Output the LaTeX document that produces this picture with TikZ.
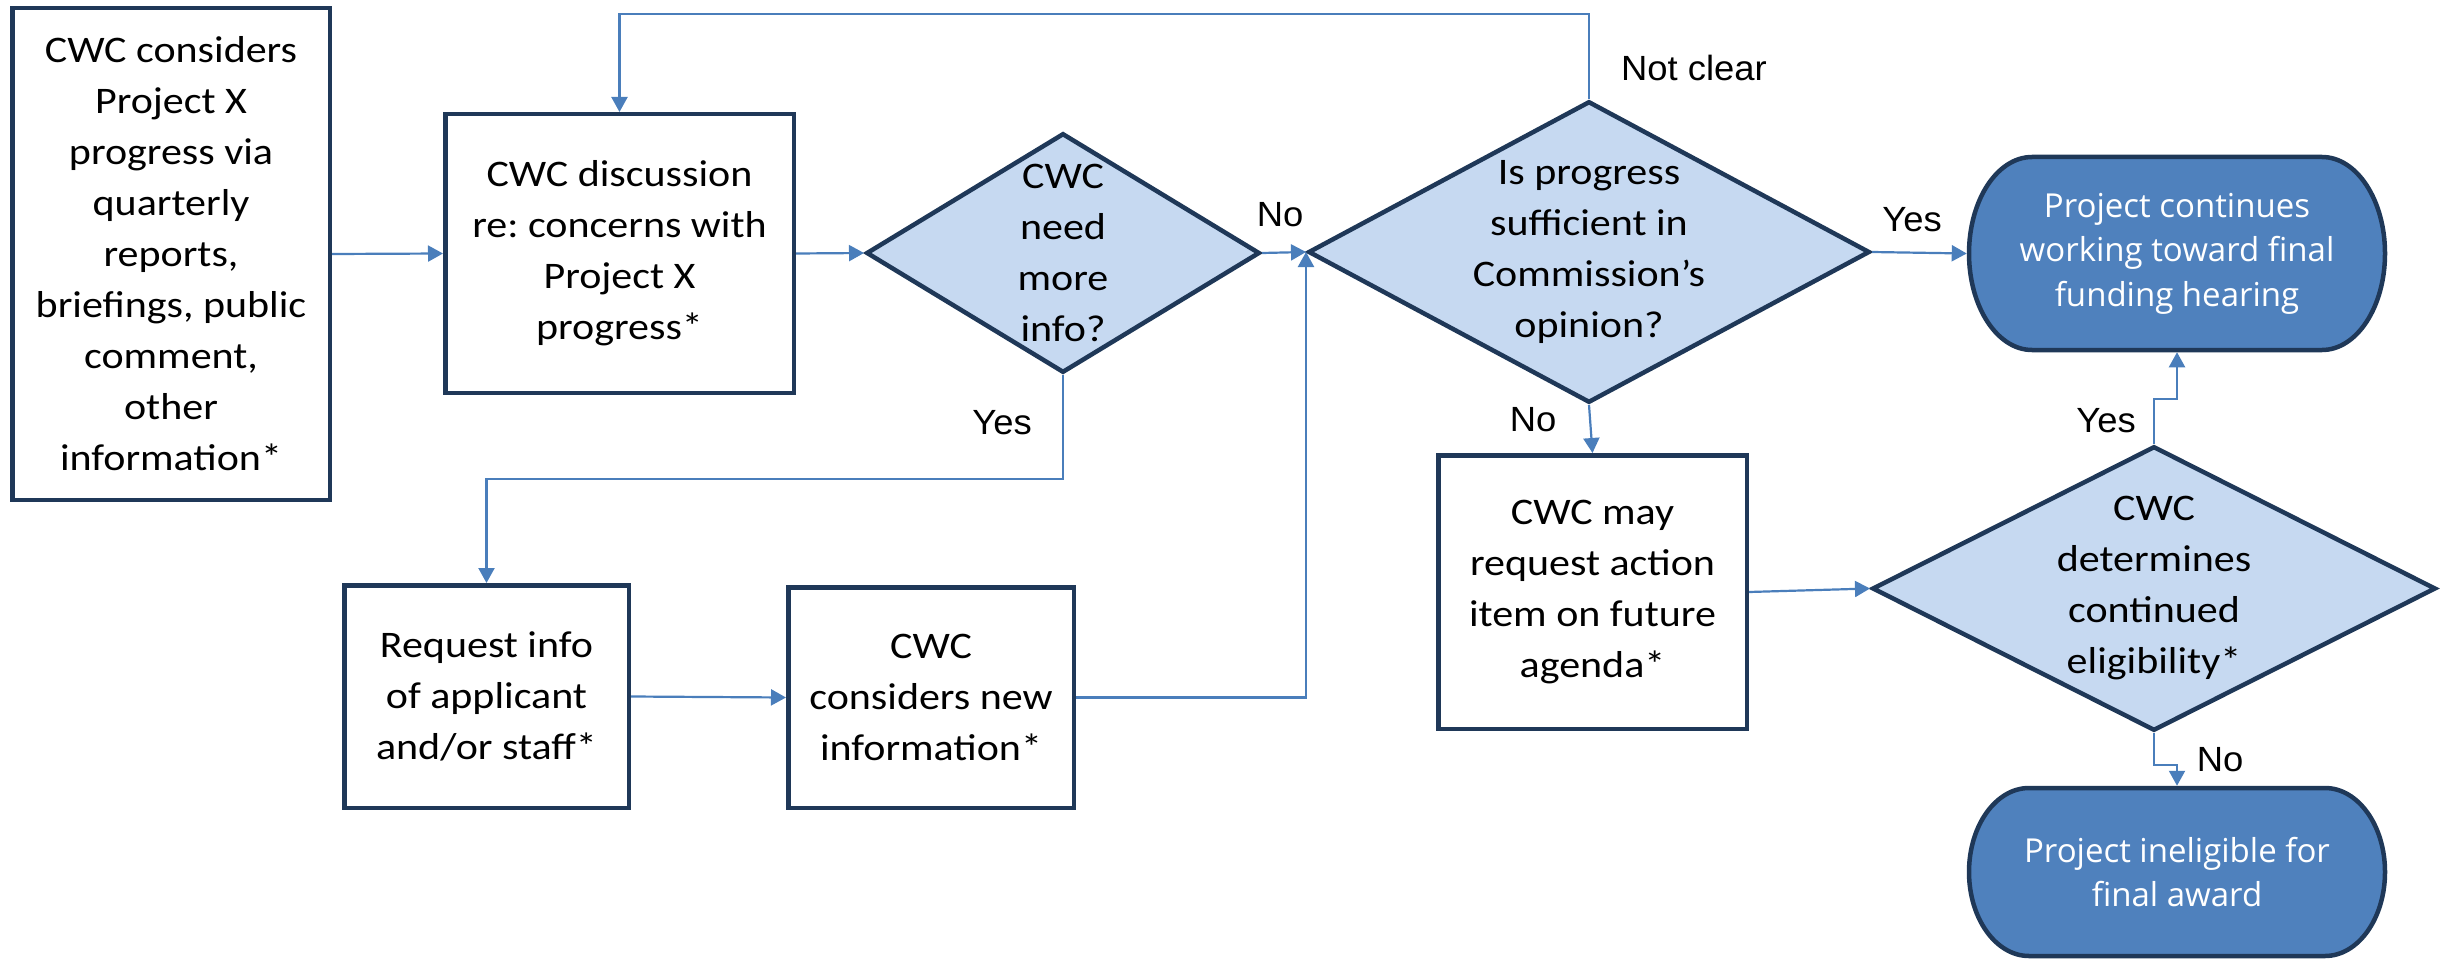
\documentclass[tikz,border=0pt]{standalone}
\usepackage{fontspec}
\usetikzlibrary{shapes.geometric,arrows.meta}
\newfontfamily\boxfont{Carlito}[FakeStretch=1.12]
\newfontfamily\lblfont{Liberation Sans}[FakeStretch=1.04]
\newfontfamily\termfont{Open Sans}
\frenchspacing
\definecolor{navy}{HTML}{1F3858}
\definecolor{lightfill}{HTML}{C6D9F1}
\definecolor{termfill}{HTML}{4F81BD}
\definecolor{conn}{HTML}{4A7EBB}
\tikzset{
  procbox/.style={draw=navy, line width=4.5pt, fill=white, align=center, inner sep=0pt,
    font=\boxfont\fontsize{37.5}{51}\selectfont},
  decide/.style={draw=navy, line width=4.5pt, fill=lightfill, diamond, inner sep=0pt,
    label={[align=center, font=\boxfont\fontsize{37.5}{51}\selectfont]center:#1}},
  termshape/.style={draw=navy, line width=4.5pt, fill=termfill},
  term/.style={align=center, inner sep=0pt, outer sep=2.25pt,
    text=white, font=\termfont\fontsize{33}{44.5}\selectfont},
  conn/.style={draw=conn, line width=2.2pt, -{Triangle[length=15pt,width=16pt]}},
  lbl/.style={inner sep=0pt, font=\lblfont\fontsize{35}{42}\selectfont}
}
\begin{document}
\begin{tikzpicture}[x=1pt,y=-1pt]
\useasboundingbox (0,0) rectangle (2447,963);
% process boxes
\node[procbox, minimum width=317.5pt, minimum height=491.5pt] (A) at (171,254)
  {CWC considers\\Project X\\progress via\\quarterly\\reports,\\briefings, public\\comment,\\other\\information*};
\node[procbox, minimum width=348.5pt, minimum height=278.5pt] (B) at (619.5,253.5)
  {CWC discussion\\re: concerns with\\Project X\\progress*};
\node[procbox, minimum width=284.5pt, minimum height=222.5pt] (G) at (486.5,696.5)
  {Request info\\of applicant\\and/or staff*};
\node[procbox, minimum width=285.5pt, minimum height=220.5pt] (H) at (931,697.5)
  {CWC\\considers new\\information*};
\node[procbox, minimum width=308.5pt, minimum height=273.5pt] (E) at (1592.5,592)
  {CWC may\\request action\\item on future\\agenda*};
% decisions
\node[decide={CWC\\need\\more\\info?}, minimum width=393.5pt, minimum height=239.5pt] (C) at (1063,253) {};
\node[decide={Is progress\\sufficient in\\Commission’s\\opinion?}, minimum width=561.5pt, minimum height=301.5pt] (D) at (1589,252) {};
\node[decide={CWC\\determines\\continued\\eligibility*}, minimum width=563.5pt, minimum height=284.5pt] (F) at (2154,588.5) {};
% terminal outlines (elliptical ends)
\draw[termshape] (2032,157) -- (2322,157)
  arc[start angle=90, end angle=-90, x radius=63pt, y radius=96.5pt]
  -- (2032,350)
  arc[start angle=270, end angle=90, x radius=63pt, y radius=96.5pt] -- cycle;
\draw[termshape] (2029,788) -- (2325,788)
  arc[start angle=90, end angle=-90, x radius=60pt, y radius=84pt]
  -- (2029,956)
  arc[start angle=270, end angle=90, x radius=60pt, y radius=84pt] -- cycle;
% terminals
\node[term, minimum width=416pt, minimum height=193pt] (T1) at (2177,253.5)
  {Project continues\\working toward final\\funding hearing};
\node[term, minimum width=416pt, minimum height=168pt] (T2) at (2177,872)
  {Project ineligible for\\final award};
% helper coordinates
\coordinate (c1) at (1063,479);
\coordinate (t1) at (1589,14);
\coordinate (f1) at (2177,399);
\coordinate (f2) at (2177,765);
% connectors
\draw[conn] (A.east) -- (B.west);
\draw[conn] (B.east) -- (C.west);
\draw[conn] (C.east) -- (D.west);
\draw[conn] (C.south) -- (c1) -| (G.north);
\draw[conn] (G.east) -- (H.west);
\draw[conn] (H.east) -| (D.west);
\draw[conn] (D.north) -- (t1) -| (B.north);
\draw[conn] (D.east) -- (T1.west);
\draw[conn] (D.south) -- (E.north);
\draw[conn] (E.east) -- (F.west);
\draw[conn] (F.north) |- (f1) -- (T1.south);
\draw[conn] (F.south) |- (f2) -- (T2.north);
% labels
\node[lbl] (lNo1) at (1280,215) {No};
\node[lbl] (lYes1) at (1002,423) {Yes};
\node[lbl] (lNC) at (1694,68) {Not clear};
\node[lbl] (lYes2) at (1912,220) {Yes};
\node[lbl] (lNo2) at (1533,420) {No};
\node[lbl] (lYes3) at (2106,421) {Yes};
\node[lbl] (lNo3) at (2220,760) {No};
\end{tikzpicture}
\end{document}
